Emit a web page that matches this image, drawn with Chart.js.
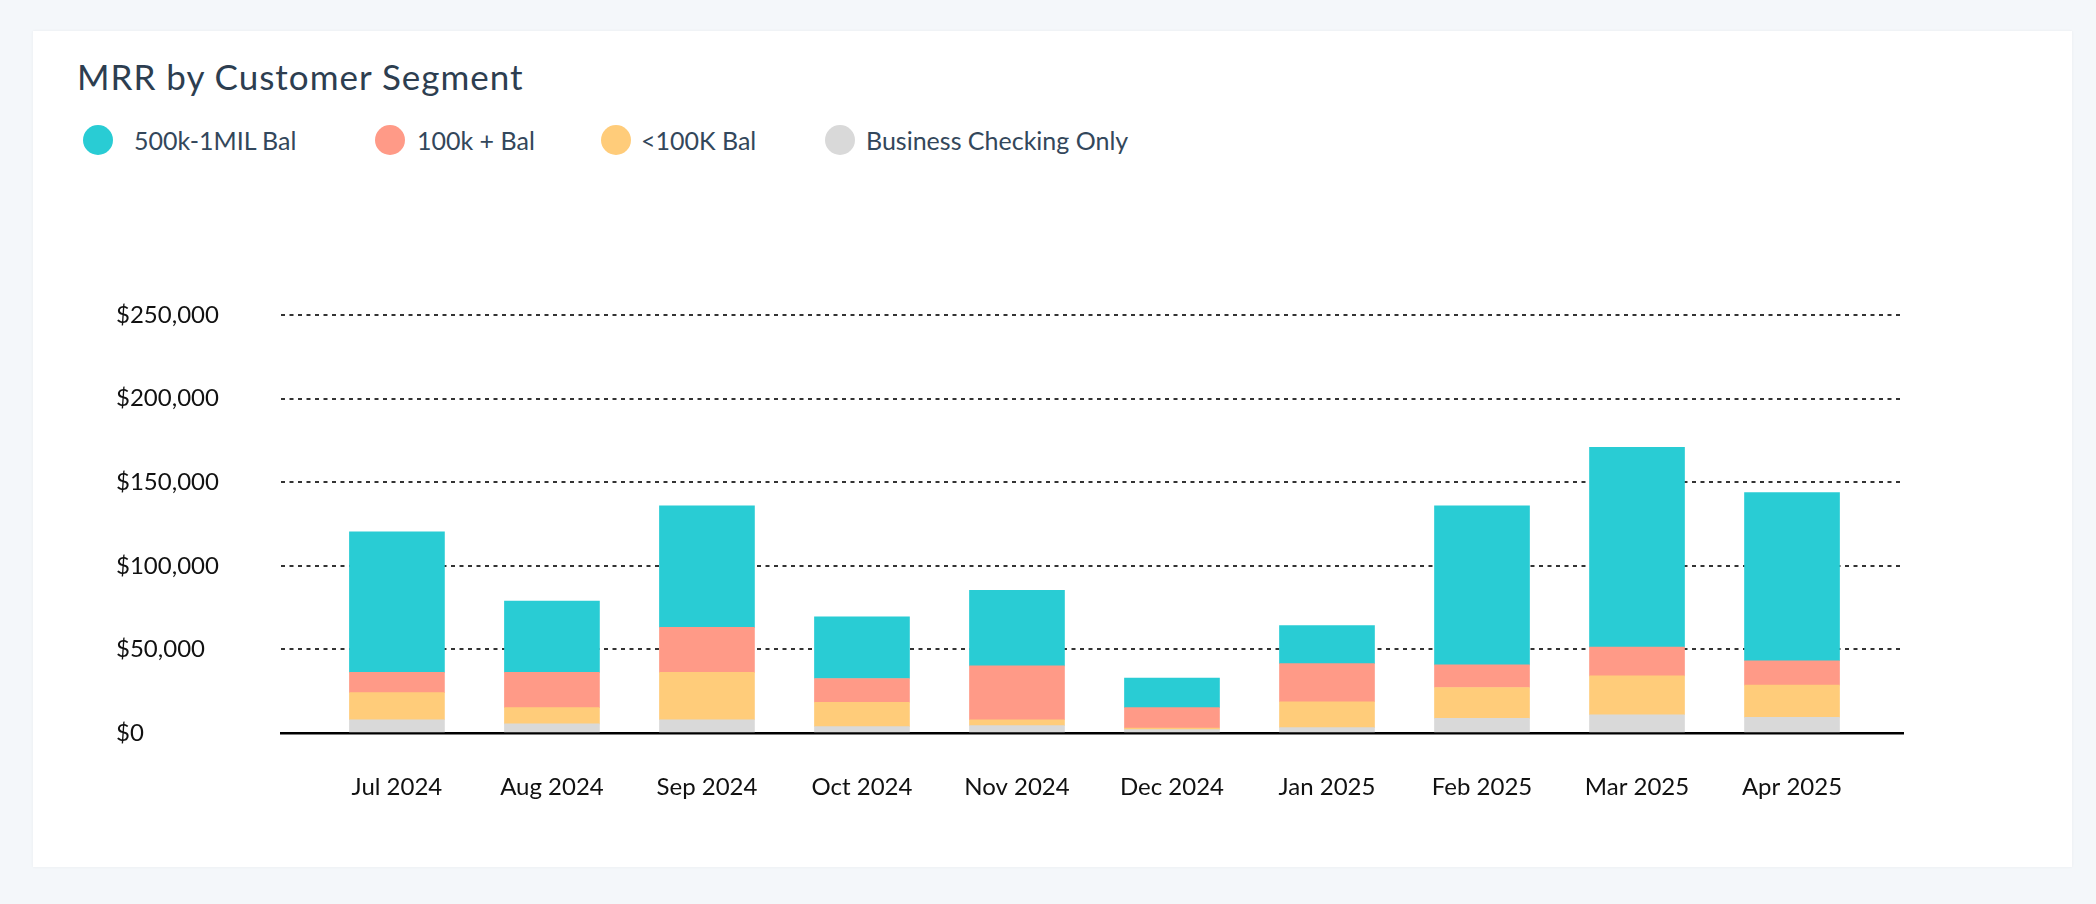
<!DOCTYPE html>
<html>
<head>
<meta charset="utf-8">
<script src="https://cdn.jsdelivr.net/npm/chart.js@4.4.1/dist/chart.umd.min.js"></script>
<style>
  html, body { margin: 0; padding: 0; }
  body { width: 2096px; height: 904px; background: #f4f7fa; position: relative; overflow: hidden; font-family: Lato, "Open Sans", sans-serif; }
  #card { position: absolute; left: 33px; top: 31px; width: 2039px; height: 836px; background: #ffffff; box-shadow: 0 0 3px rgba(0,0,0,0.05); }
  #title { position: absolute; left: 77px; top: 55px; font-size: 35px; line-height: 42px; letter-spacing: 1px; color: #2d3e50; white-space: nowrap; }
  .lg-dot { position: absolute; width: 30px; height: 30px; border-radius: 50%; top: 125px; }
  .lg-txt { position: absolute; top: 125px; font-size: 25px; line-height: 30px; color: #33475b; white-space: nowrap; }
  #chart { position: absolute; left: 0; top: 0; }
</style>
</head>
<body>
<div id="card"></div>
<div id="title">MRR by Customer Segment</div>
<div id="legend"></div>
<canvas id="chart" width="2096" height="904"></canvas>
<script>
// ---- data (US$) ----
const categories = ['Jul 2024', 'Aug 2024', 'Sep 2024', 'Oct 2024', 'Nov 2024', 'Dec 2024', 'Jan 2025', 'Feb 2025', 'Mar 2025', 'Apr 2025'];
const seriesNames = ['500k-1MIL Bal', '100k + Bal', '<100K Bal', 'Business Checking Only'];
const bal500kTo1Mil   = [84000, 42600, 72700, 36900, 45300, 17600, 22700, 95200, 119500, 100600];
const bal100kPlus     = [12200, 21100, 26900, 14200, 32200, 12200, 22800, 13500, 17200, 14600];
const balUnder100k    = [16200,  9700, 28400, 14600,  3500,  1000, 15500, 18500, 23300, 19300];
const checkingOnly    = [ 7900,  5500,  7900,  3800,  4400,  2000,  3200,  8700, 10900,  9300];
const yTickValues     = [0, 50000, 100000, 150000, 200000, 250000];

const colors = {
  '500k-1MIL Bal': '#29ccd4',
  '100k + Bal': '#ff9a87',
  '<100K Bal': '#ffcc7a',
  'Business Checking Only': '#d9d9d9'
};

// ---- legend (HTML) ----
const legendPos = [[83, 134], [375, 417], [601, 641], [825, 866]];
const legendEl = document.getElementById('legend');
seriesNames.forEach((name, i) => {
  const d = document.createElement('div');
  d.className = 'lg-dot';
  d.style.left = legendPos[i][0] + 'px';
  d.style.background = colors[name];
  legendEl.appendChild(d);
  const t = document.createElement('div');
  t.className = 'lg-txt';
  t.style.left = legendPos[i][1] + 'px';
  t.textContent = name;
  legendEl.appendChild(t);
});

// ---- chart ----
const toPoints = arr => arr.map((v, i) => ({ x: i, y: v }));
const stackOrder = [
  ['Business Checking Only', checkingOnly],
  ['<100K Bal', balUnder100k],
  ['100k + Bal', bal100kPlus],
  ['500k-1MIL Bal', bal500kTo1Mil]
];
const datasets = stackOrder.map(([name, arr]) => ({
  label: name,
  data: toPoints(arr),
  backgroundColor: colors[name],
  borderWidth: 0,
  barThickness: 95
}));

const tickFont = { family: 'Lato', size: 24 };

new Chart(document.getElementById('chart'), {
  type: 'bar',
  data: { datasets },
  options: {
    responsive: false,
    devicePixelRatio: 1,
    animation: false,
    events: [],
    layout: { padding: { left: 116, right: 193, top: 315, bottom: 71 } },
    plugins: { legend: { display: false }, tooltip: { enabled: false }, title: { display: false } },
    scales: {
      x: {
        type: 'linear',
        stacked: true,
        offset: false,
        bounds: 'data',
        min: -0.748,
        max: 9.716,
        grid: { display: false, drawTicks: false, offset: false },
        border: { display: true, color: '#000000', width: 2.5 },
        afterBuildTicks: s => { s.ticks = categories.map((c, i) => ({ value: i })); },
        afterFit: s => { s.height = 100; },
        ticks: {
          autoSkip: false,
          maxRotation: 0,
          padding: 40,
          color: '#111111',
          font: tickFont,
          callback: v => categories[v]
        }
      },
      y: {
        stacked: true,
        min: 0,
        max: 250000,
        afterBuildTicks: s => { s.ticks = yTickValues.map(v => ({ value: v })); },
        afterFit: s => { s.width = 165; },
        grid: { color: 'rgba(0,0,0,0.8)', lineWidth: 2, drawTicks: false },
        border: { display: false, dash: [4, 4.5] },
        ticks: {
          crossAlign: 'far',
          padding: 0,
          color: '#111111',
          font: tickFont,
          callback: v => '$' + Number(v).toLocaleString('en-US')
        }
      }
    }
  }
});
</script>
</body>
</html>
